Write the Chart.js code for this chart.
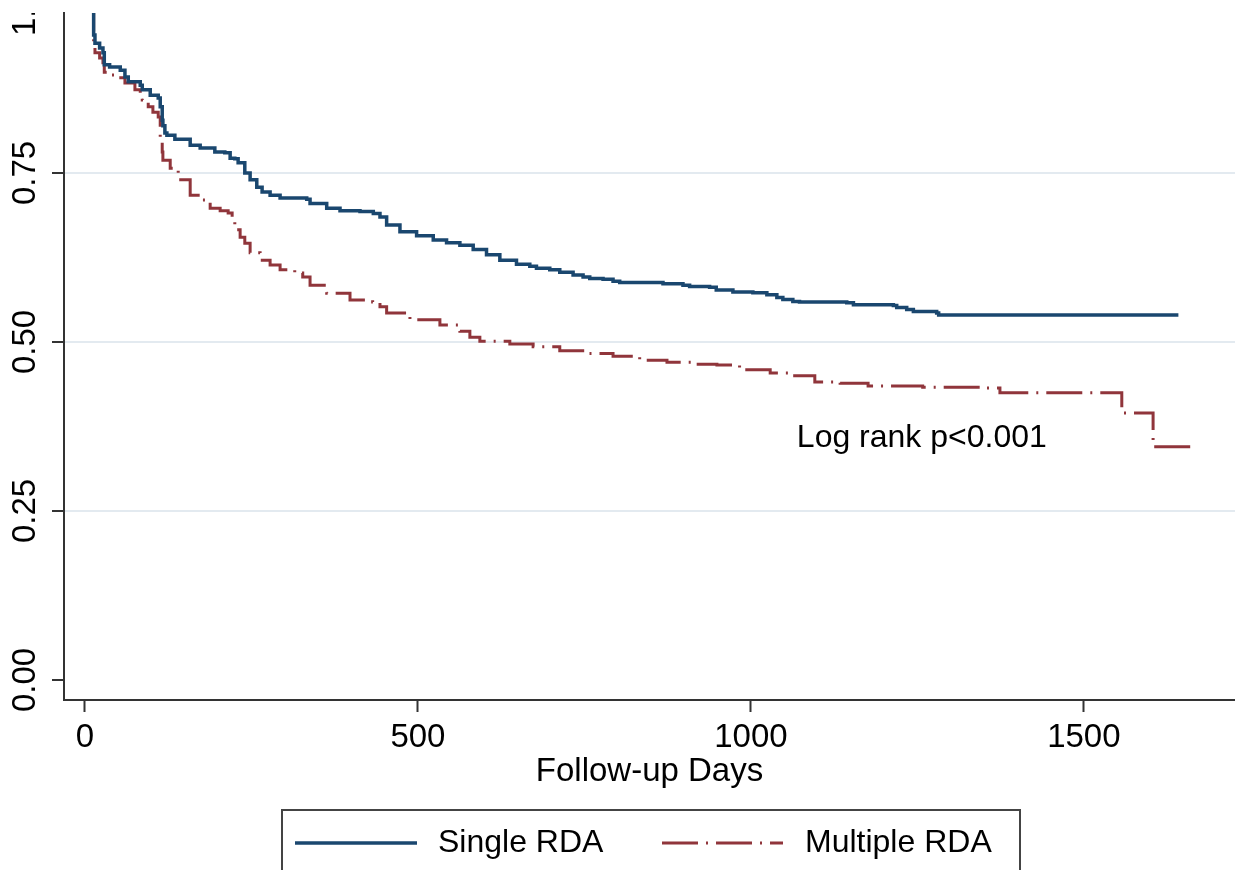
<!DOCTYPE html>
<html>
<head>
<meta charset="utf-8">
<script src="https://cdn.jsdelivr.net/npm/chart.js@4/dist/chart.umd.min.js"></script>
<style>
html,body{margin:0;padding:0;background:#fff;}
canvas{display:block;}
</style>
</head>
<body>
<canvas id="c" width="1235" height="870"></canvas>
<script>
// ---- data (Kaplan-Meier estimates) ----
const seriesNames = ['Single RDA', 'Multiple RDA'];

const singleDays = [0, 13, 15, 22, 27, 29, 37, 53, 60, 65, 83, 86, 98, 110, 113, 116, 117, 120, 123, 135,
  158, 173, 195, 210, 218, 225, 230, 240, 248, 258, 266, 278, 293, 333, 338, 363, 383, 413, 433, 443,
  453, 473, 498, 523, 543, 563, 583, 603, 623, 648, 668, 678, 698, 713, 733, 748, 758, 778, 793, 803,
  868, 898, 908, 938, 948, 973, 1003, 1024, 1039, 1048, 1063, 1073, 1144, 1154, 1214, 1219, 1234, 1244,
  1279, 1282, 1642];
const singleSurv = [1.000, 0.954, 0.942, 0.935, 0.928, 0.910, 0.907, 0.902, 0.892, 0.885, 0.880, 0.873, 0.865, 0.861, 0.848, 0.828, 0.820, 0.809, 0.806, 0.800,
  0.791, 0.787, 0.781, 0.780, 0.772, 0.771, 0.765, 0.750, 0.740, 0.729, 0.722, 0.717, 0.713, 0.711, 0.705, 0.698, 0.694, 0.693, 0.690, 0.685,
  0.673, 0.663, 0.657, 0.651, 0.647, 0.643, 0.637, 0.629, 0.621, 0.615, 0.612, 0.609, 0.607, 0.603, 0.599, 0.596, 0.594, 0.593, 0.590, 0.588,
  0.586, 0.584, 0.582, 0.581, 0.577, 0.574, 0.573, 0.570, 0.566, 0.563, 0.560, 0.559, 0.558, 0.555, 0.554, 0.551, 0.548, 0.545,
  0.543, 0.540, 0.540];

const multiDays = [0, 13, 15, 22, 27, 29, 35, 50, 60, 75, 83, 86, 95, 102, 110, 113, 116, 117, 128, 140,
  158, 173, 188, 203, 215, 221, 225, 233, 240, 248, 263, 278, 293, 315, 327, 338, 363, 398, 432, 443,
  453, 488, 533, 563, 578, 593, 638, 673, 713, 754, 793, 833, 874, 913, 949, 983, 1029, 1063, 1096, 1134,
  1176, 1258, 1347, 1374, 1557, 1604, 1662];
const multiSurv = [1.000, 0.935, 0.928, 0.920, 0.913, 0.899, 0.895, 0.891, 0.883, 0.873, 0.868, 0.858, 0.848, 0.840, 0.833, 0.796, 0.781, 0.769, 0.757, 0.740,
  0.717, 0.710, 0.698, 0.694, 0.691, 0.685, 0.666, 0.655, 0.646, 0.632, 0.621, 0.614, 0.607, 0.602, 0.596, 0.584, 0.572, 0.562, 0.559, 0.552,
  0.543, 0.533, 0.525, 0.516, 0.507, 0.501, 0.497, 0.493, 0.487, 0.483, 0.479, 0.473, 0.470, 0.467, 0.466, 0.459, 0.454, 0.450, 0.441, 0.439,
  0.435, 0.433, 0.432, 0.425, 0.395, 0.345, 0.345];

const xTicks = [0, 500, 1000, 1500];
const yTicks = [0, 0.25, 0.5, 0.75, 1];
const xTitle = 'Follow-up Days';
const annotationText = 'Log rank p<0.001';
const annotationAt = [1069, 0.358];

// ---- styling ----
const FONT = "'Liberation Sans', Arial, Helvetica, sans-serif";
const BLUE = '#1a476f';
const RED = '#90353b';
const AXIS = '#333333';
const GRID = '#e3eaf0';
const RED_DASH = [36, 8, 2, 8];

const toPts = (xs, ys) => xs.map((x, i) => ({x: x, y: ys[i]}));

const extrasPlugin = {
  id: 'extras',
  afterDraw(chart) {
    const ctx = chart.ctx;
    const xs = chart.scales.x, ys = chart.scales.y;
    const area = chart.chartArea;
    // y tick labels, rotated (reading bottom to top)
    ctx.save();
    ctx.beginPath();
    ctx.rect(0, area.top, area.left, chart.height - area.top);
    ctx.clip();
    ctx.fillStyle = '#000';
    ctx.font = '33px ' + FONT;
    ctx.textAlign = 'center';
    ctx.textBaseline = 'middle';
    yTicks.forEach(v => {
      const py = ys.getPixelForValue(v);
      ctx.save();
      ctx.translate(25.5, py);
      ctx.rotate(-Math.PI / 2);
      ctx.fillText(v.toFixed(2), 0, 0);
      ctx.restore();
    });
    ctx.restore();

    // annotation
    ctx.save();
    ctx.fillStyle = '#000';
    ctx.font = '32px ' + FONT;
    ctx.textAlign = 'left';
    ctx.textBaseline = 'middle';
    ctx.fillText(annotationText, xs.getPixelForValue(annotationAt[0]), ys.getPixelForValue(annotationAt[1]));
    ctx.restore();

    // legend box
    ctx.save();
    ctx.strokeStyle = '#444';
    ctx.lineWidth = 2;
    ctx.strokeRect(282, 810, 738, 90);
    const ly = 843;
    const items = [
      {x0: 295, x1: 417, tx: 438, ds: chart.data.datasets[0]},
      {x0: 662, x1: 783, tx: 805, ds: chart.data.datasets[1]}
    ];
    items.forEach(it => {
      ctx.save();
      ctx.strokeStyle = it.ds.borderColor;
      ctx.lineWidth = it.ds.borderWidth;
      ctx.setLineDash(it.ds.borderDash || []);
      ctx.beginPath();
      ctx.moveTo(it.x0, ly);
      ctx.lineTo(it.x1, ly);
      ctx.stroke();
      ctx.restore();
      ctx.fillStyle = '#000';
      ctx.font = '32px ' + FONT;
      ctx.textAlign = 'left';
      ctx.textBaseline = 'middle';
      ctx.fillText(it.ds.label, it.tx, ly);
    });
    ctx.restore();
  }
};

new Chart(document.getElementById('c'), {
  type: 'line',
  data: {
    datasets: [
      {label: seriesNames[0], data: toPts(singleDays, singleSurv), borderColor: BLUE, borderWidth: 3.5,
       stepped: 'before', pointRadius: 0, fill: false, tension: 0},
      {label: seriesNames[1], data: toPts(multiDays, multiSurv), borderColor: RED, borderWidth: 3,
       borderDash: RED_DASH, stepped: 'before', pointRadius: 0, fill: false, tension: 0}
    ]
  },
  options: {
    responsive: false,
    animation: false,
    devicePixelRatio: 1,
    layout: {padding: {top: 13, right: 0, bottom: 78, left: 0}},
    plugins: {legend: {display: false}, tooltip: {enabled: false}, title: {display: false}},
    scales: {
      x: {
        type: 'linear',
        min: -31.5,
        max: 1727,
        afterBuildTicks: s => { s.ticks = xTicks.map(v => ({value: v})); },
        afterFit: s => { s.height = 92; },
        ticks: {color: '#000', font: {family: FONT, size: 33}, padding: 6, maxRotation: 0, autoSkip: false,
                callback: v => String(v)},
        grid: {display: true, drawOnChartArea: false, drawTicks: true, tickLength: 12, tickColor: AXIS, tickWidth: 2},
        border: {display: true, color: AXIS, width: 2},
        title: {display: true, text: xTitle, color: '#000', font: {family: FONT, size: 33}, padding: {top: 0, bottom: 0}}
      },
      y: {
        type: 'linear',
        min: -0.0296,
        max: 0.9867,
        afterBuildTicks: s => { s.ticks = yTicks.filter(v => v <= 0.9867).map(v => ({value: v})); },
        afterFit: s => { s.width = 64; },
        ticks: {display: false},
        grid: {display: true, drawOnChartArea: true, drawTicks: true, tickLength: 12, tickColor: AXIS, tickWidth: 2,
               lineWidth: 2, color: c => (c.tick && c.tick.value === 0) ? 'rgba(0,0,0,0)' : GRID},
        border: {display: true, color: AXIS, width: 2}
      }
    }
  },
  plugins: [extrasPlugin]
});
</script>
</body>
</html>
